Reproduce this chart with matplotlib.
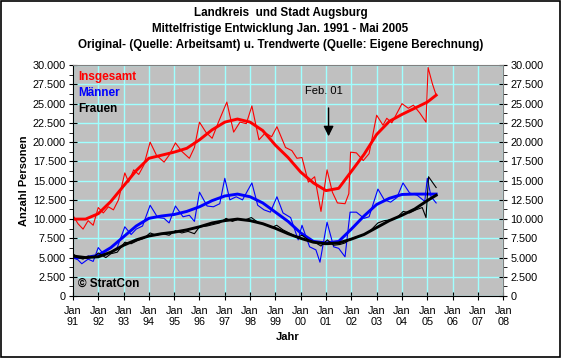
import numpy as np
import matplotlib.pyplot as plt
from matplotlib.ticker import MultipleLocator, FuncFormatter
from matplotlib.patches import Rectangle

plt.rcParams['font.family'] = ['Liberation Sans', 'DejaVu Sans']

#Original values (Quelle: Arbeitsamt), x in years
ges_x = [1991.0, 1991.2, 1991.4, 1991.6, 1991.8, 1992.0, 1992.2, 1992.4, 1992.6, 1992.8,
         1993.05, 1993.2, 1993.4, 1993.6, 1993.8, 1994.05, 1994.3, 1994.6, 1994.8,
         1995.05, 1995.3, 1995.6, 1995.8, 1996.0, 1996.25, 1996.5, 1996.75,
         1997.08, 1997.35, 1997.6, 1997.85, 1998.07, 1998.35, 1998.6, 1998.85,
         1999.06, 1999.4, 1999.65, 1999.85, 2000.05, 2000.3, 2000.55, 2000.8,
         2001.04, 2001.25, 2001.45, 2001.75, 2001.9, 2001.97, 2002.2, 2002.47, 2002.7,
         2003.0, 2003.25, 2003.4, 2003.6, 2004.0, 2004.25, 2004.45, 2004.7, 2004.95,
         2005.03, 2005.2, 2005.35]
ges_y = [10500, 9400, 8700, 9800, 9200, 11500, 10800, 11600, 11200, 12500,
         16000, 14800, 16400, 15800, 17000, 20000, 18300, 17400, 18300,
         19900, 18800, 17900, 19300, 22600, 21300, 20500, 22600,
         25200, 21300, 22600, 22400, 24700, 20300, 21200, 20700,
         22000, 19300, 18900, 17900, 18000, 14800, 15500, 11000,
         16400, 13500, 12100, 12000, 13300, 18700, 18600, 17600, 18500,
         23500, 22200, 23100, 22500, 25000, 24400, 24800, 23800, 22600,
         29700, 27600, 26100]

man_x = [1991.0, 1991.2, 1991.35, 1991.6, 1991.8, 1992.0, 1992.25, 1992.5, 1992.75,
         1993.05, 1993.3, 1993.5, 1993.75, 1994.05, 1994.35, 1994.6, 1994.8,
         1995.05, 1995.35, 1995.6, 1995.8, 1996.0, 1996.3, 1996.55, 1996.8,
         1997.0, 1997.2, 1997.45, 1997.7, 1998.07, 1998.3, 1998.55, 1998.8,
         1999.06, 1999.3, 1999.6, 1999.9, 2000.05, 2000.35, 2000.6, 2000.76,
         2001.04, 2001.3, 2001.5, 2001.75, 2001.95, 2002.2, 2002.5, 2002.7,
         2003.05, 2003.3, 2003.55, 2003.8, 2004.04, 2004.3, 2004.6, 2004.9,
         2005.0, 2005.15, 2005.35]
man_y = [5000, 4700, 4200, 4800, 4500, 6300, 5300, 5700, 6300,
         9000, 8000, 8700, 9100, 11800, 10200, 10100, 9500,
         11700, 10300, 10500, 9700, 13500, 11700, 11600, 12000,
         15300, 12500, 12900, 12500, 14700, 11800, 11200, 10900,
         12900, 10800, 10200, 7300, 9200, 6400, 6000, 4400,
         9600, 6400, 6200, 5100, 10900, 10900, 10100, 10300,
         13900, 12500, 12200, 12800, 14700, 13400, 13100, 12300,
         15300, 12900, 12100]

fr_x = [1991.0, 1991.2, 1991.4, 1991.6, 1991.8, 1992.0, 1992.3, 1992.5, 1992.75,
        1993.05, 1993.3, 1993.55, 1993.8, 1994.05, 1994.3, 1994.55, 1994.8,
        1995.05, 1995.3, 1995.55, 1995.8, 1996.0, 1996.3, 1996.55, 1996.8,
        1997.05, 1997.3, 1997.55, 1997.8, 1998.05, 1998.3, 1998.6, 1998.85,
        1999.05, 1999.3, 1999.6, 1999.85, 2000.05, 2000.35, 2000.6, 2000.8,
        2001.05, 2001.3, 2001.55, 2001.75, 2001.95, 2002.2, 2002.45, 2002.75,
        2003.05, 2003.3, 2003.55, 2003.8, 2004.05, 2004.3, 2004.55, 2004.8,
        2004.95, 2005.05, 2005.35]
fr_y = [5500, 5000, 4800, 5200, 5000, 5600, 5000, 5500, 5700,
        7000, 6800, 7200, 7500, 8200, 7900, 8100, 7900,
        8500, 8200, 8400, 8100, 9000, 9100, 9300, 9500,
        10100, 9700, 10000, 9900, 10200, 9600, 9300, 8900,
        9200, 8600, 8100, 7600, 7900, 7200, 6900, 6500,
        7300, 6600, 6700, 6900, 7400, 7700, 7900, 8500,
        9500, 9800, 9900, 10200, 11000, 10800, 11200, 11500,
        10200, 15500, 14100]

#Trend values (Quelle: Eigene Berechnung)
trend_x = [1991.0, 1991.5, 1992.0, 1992.5, 1993.0, 1993.5, 1994.0, 1994.5, 1995.0, 1995.5,
           1996.0, 1996.5, 1997.0, 1997.5, 1998.0, 1998.5, 1999.0, 1999.5, 2000.0, 2000.5,
           2001.0, 2001.5, 2002.0, 2002.5, 2003.0, 2003.5, 2004.0, 2004.5, 2005.0, 2005.35]
ges_trend = [10000, 10000, 10700, 12300, 14300, 16300, 17900, 18300, 18700, 19200,
             20300, 21600, 22600, 23000, 22600, 21500, 19600, 18000, 16100, 14700,
             13700, 14000, 16200, 18400, 21000, 22700, 23600, 24400, 25200, 26100]
man_trend = [5000, 5000, 5300, 6300, 7700, 9100, 10100, 10400, 10600, 11000,
             11600, 12400, 13000, 13250, 12900, 12100, 10900, 9700, 8200, 7100,
             6900, 7100, 8700, 10400, 11900, 12700, 13200, 13250, 13250, 13250]
fr_trend = [5200, 5000, 5100, 5700, 6600, 7300, 7800, 8100, 8300, 8600,
            9000, 9500, 9800, 10000, 9800, 9400, 8800, 8100, 7500, 7000,
            6800, 6900, 7400, 8000, 8900, 9800, 10500, 11300, 12400, 13100]

years = list(range(1991, 2009))
year_labels = ['Jan\n%02d' % (y % 100) for y in years]

fig = plt.figure(figsize=(5.61, 3.58), dpi=100)
fig.patches.append(Rectangle((0.001, 0.002), 0.997, 0.996, transform=fig.transFigure,
                             fill=False, edgecolor='black', linewidth=1.2))
ax = fig.add_axes([0.130, 0.173, 0.767, 0.645])
ax.set_facecolor('#C0C0C0')

#Plots
ax.plot(ges_x, ges_y, color='#FF0000', lw=0.8)
ax.plot(trend_x, ges_trend, color='#FF0000', lw=2.1)
ax.plot(man_x, man_y, color='#0000FF', lw=0.8)
ax.plot(trend_x, man_trend, color='#0000FF', lw=2.1)
ax.plot(fr_x, fr_y, color='black', lw=0.8)
ax.plot(trend_x, fr_trend, color='black', lw=2.1)

ax.set_xlim(1991, 2008)
ax.set_ylim(0, 30000)
ax.set_xticks(years)
ax.set_xticklabels(year_labels)
ax.yaxis.set_major_locator(MultipleLocator(2500))
ax.yaxis.set_minor_locator(MultipleLocator(1250))
fmt = FuncFormatter(lambda v, p: ('{:,.0f}'.format(v)).replace(',', '.'))
ax.yaxis.set_major_formatter(fmt)
ax.grid(True, color='#A0FFFF', lw=1)
ax.set_axisbelow(True)
for s in ['top', 'right']:
    ax.spines[s].set_color('#808080')
ax.tick_params(axis='both', which='major', direction='inout', length=6, labelsize=7.8, pad=2)
ax.tick_params(axis='y', which='minor', direction='out', length=3)
ax.tick_params(axis='y', right=True, labelright=True, which='both')
ax.tick_params(axis='x', pad=4)

ax.set_ylabel('Anzahl Personen', fontsize=8, fontweight='bold', labelpad=3)
ax.set_xlabel('Jahr', fontsize=8, fontweight='bold', labelpad=3)

#Titles
fig.text(0.5, 0.963, 'Landkreis  und Stadt Augsburg', ha='center', va='center',
         fontsize=8.4, fontweight='bold')
fig.text(0.5, 0.918, 'Mittelfristige Entwicklung Jan. 1991 - Mai 2005', ha='center',
         va='center', fontsize=8.4, fontweight='bold')
fig.text(0.5, 0.873, 'Original- (Quelle: Arbeitsamt) u. Trendwerte (Quelle: Eigene Berechnung)',
         ha='center', va='center', fontsize=8.4, fontweight='bold')

#Legend texts
ax.text(0.012, 0.95, 'Insgesamt', transform=ax.transAxes, color='#FF0000',
        fontsize=8.5, fontweight='bold', va='center')
ax.text(0.012, 0.88, 'Männer', transform=ax.transAxes, color='#0000FF',
        fontsize=8.5, fontweight='bold', va='center')
ax.text(0.012, 0.81, 'Frauen', transform=ax.transAxes, color='black',
        fontsize=8.5, fontweight='bold', va='center')
ax.text(0.012, 0.052, '© StratCon', transform=ax.transAxes, color='black',
        fontsize=8.5, fontweight='bold', va='center')

#Feb. 01 marker
ax.text(2000.9, 26700, 'Feb. 01', ha='center', va='center', fontsize=8)
ax.annotate('', xy=(2001.1, 20400), xytext=(2001.1, 24800),
            arrowprops=dict(arrowstyle='-|>', color='black', lw=1, mutation_scale=15))

fig.savefig('out.png', dpi=100)
